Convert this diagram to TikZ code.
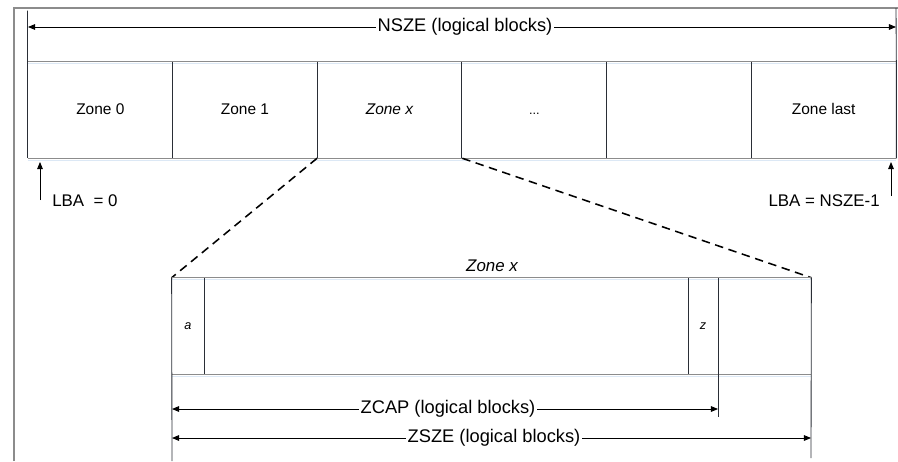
\documentclass[tikz,border=0pt]{standalone}
\usepackage{fontspec}
\setmainfont{Liberation Sans}
\usetikzlibrary{arrows.meta, positioning}
\definecolor{lngray}{HTML}{8C8C8C}
\definecolor{lndark}{HTML}{2A2E36}
\definecolor{lnblue}{HTML}{DCE8F5}

\begin{document}
\begin{tikzpicture}[
    x=0.025cm, y=-0.025cm,
    hline/.style={draw=lngray, line width=1pt},
    shade/.style={draw=lnblue, line width=0.8pt},
    vline/.style={draw=lndark, line width=0.6pt},
    zoomln/.style={draw=black, line width=1.1pt, dash pattern=on 6pt off 4pt},
    dim/.style={draw=black, line width=0.6pt, -{Triangle[length=5pt, width=4pt]}},
    zone/.style={minimum width=3.617cm, minimum height=2.4cm, inner sep=0pt,
                 text height=1.6ex, text depth=0.3ex,
                 font=\fontsize{11}{13}\selectfont},
    dimlbl/.style={inner sep=1pt, font=\fontsize{13}{15}\selectfont},
    lbalbl/.style={inner sep=0pt, font=\fontsize{12}{14}\selectfont},
    cellx/.style={inner sep=0pt, font=\fontsize{9}{11}\selectfont\itshape},
  ]
  \useasboundingbox (0,0) rectangle (898,461);
  % ===== page frame =====
  \draw[lngray, line width=0.8pt] (14,461) -- (14,8) -- (898,8);

  % ===== namespace: six zones =====
  \foreach \i/\t in {0/Zone 0, 1/Zone 1, 2/\textit{Zone x}, 3/{\small ...}, 4/{}, 5/Zone last}
    \node[zone] (z\i) at ({100.33+144.67*\i}, 110) {\t};
  \draw[shade] ([yshift=-1.5pt]z0.north west) -- ([yshift=-1.5pt]z5.north east);
  \draw[shade] ([yshift=-1.5pt]z0.south west) -- ([yshift=-1.5pt]z5.south east);
  \draw[hline] (z0.north west) -- (z5.north east);
  \draw[hline] (z0.south west) -- (z5.south east);
  \foreach \i in {1,...,5}
    \draw[vline] (z\i.north west) -- (z\i.south west);
  \draw[vline] (z0.north west) -- ++(0,-51) coordinate (nl) -- (z0.south west);
  \draw[vline] (z5.south east) -- (z5.north east) -- (896,8) coordinate (nr);

  % NSZE span
  \node[dimlbl] (nsze) at (465,27) {NSZE (logical blocks)};
  \coordinate (nszel) at (28,27);
  \coordinate (nszer) at (896,27);
  \draw[dim] (nsze.west) -- (nszel);
  \draw[dim] (nsze.east) -- (nszer);

  % first and last LBA
  \coordinate (lba0) at (40,200);
  \coordinate (lba0t) at (40,162);
  \coordinate (lban) at (891,196);
  \coordinate (lbant) at (891,162);
  \draw[dim] (lba0) -- (lba0t);
  \draw[dim] (lban) -- (lbant);
  \node[lbalbl, anchor=west] (lba0lbl) at (52,201) {LBA\ \ = 0};
  \node[lbalbl, anchor=east] (lbanlbl) at (880,201) {LBA = NSZE-1};

  % ===== zone x, expanded =====
  \node[minimum width=15.975cm, minimum height=2.4cm, inner sep=0pt] (zx) at (491.5,326) {};
  \node[cellx, font=\fontsize{12}{14}\selectfont\itshape] (zxlbl) at (492,266) {Zone x};
  \draw[zoomln] (z2.south west) -- (zx.north west);
  \draw[zoomln] (z2.south east) -- (zx.north east);
  \draw[shade] ([yshift=-1.5pt]zx.north west) -- ([yshift=-1.5pt]zx.north east);
  \draw[shade] ([yshift=-1.5pt]zx.south west) -- ([yshift=-1.5pt]zx.south east);
  \draw[hline] (zx.north west) -- (zx.north east);
  \draw[hline] (zx.south west) -- (zx.south east);
  \coordinate (ca) at (204,278);
  \coordinate (cz) at (688,278);
  \coordinate (cend) at (718,278);
  \draw[vline] (zx.north west) -- (172,461) coordinate (zxbot);
  \draw[vline] (ca) -- (ca |- zx.south);
  \draw[vline] (cz) -- (cz |- zx.south);
  \draw[vline] (cend) -- (718,417) coordinate (capend);
  \draw[vline] (zx.north east) -- (811,458) coordinate (szeend);
  \node[cellx] (cella) at (188,326) {a};
  \node[cellx] (cellz) at (703,326) {z};

  % ZCAP / ZSZE spans
  \node[dimlbl] (zcap) at (448,409) {ZCAP (logical blocks)};
  \node[dimlbl] (zsze) at (494,438) {ZSZE (logical blocks)};
  \draw[dim] (zcap.west) -- (zcap.west -| zxbot);
  \draw[dim] (zcap.east) -- (zcap.east -| capend);
  \draw[dim] (zsze.west) -- (zsze.west -| zxbot);
  \draw[dim] (zsze.east) -- (zsze.east -| szeend);
\end{tikzpicture}
\end{document}
